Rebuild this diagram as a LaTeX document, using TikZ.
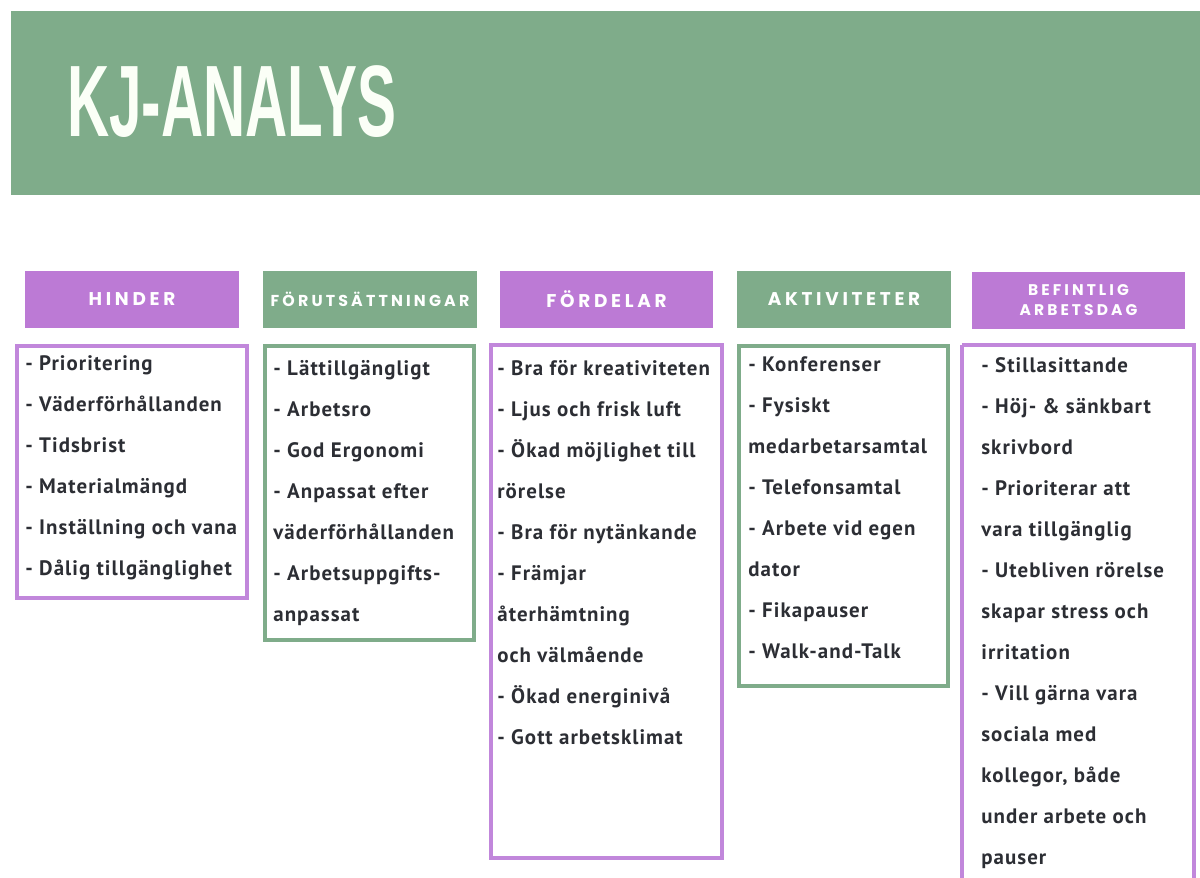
\documentclass[tikz,border=0pt]{standalone}
\usepackage{fontspec}
\setmainfont{PT Sans}
\newfontfamily\hdrfont[LetterSpace=20]{Poppins}
\newfontfamily\itemfont[LetterSpace=5]{PT Sans}
\newfontfamily\titlefont{Liberation Sans}
\usetikzlibrary{positioning}

\definecolor{kjgreen}{HTML}{7FAC8A}
\definecolor{kjpurple}{HTML}{BC7AD5}
\definecolor{kjline}{HTML}{C187DB}
\definecolor{kjtext}{HTML}{2C2E34}
\definecolor{kjtitle}{HTML}{FBFFF7}

\begin{document}
\begin{tikzpicture}[x=0.02cm, y=-0.02cm,
	header/.style={minimum width=4.28cm, minimum height=1.14cm, inner sep=0, text=white, align=center, font=\hdrfont\bfseries\fontsize{10.5}{11.3}\selectfont},
	item/.style={anchor=base west, inner sep=0, text=kjtext, font=\itemfont\bfseries\fontsize{11.9}{14}\selectfont},
	box/.style={line width=2pt}]
\def \step {41}
\def \hinx {25}
\def \forx {273}
\def \fordx {497}
\def \aktx {748}
\def \befx {981}

\useasboundingbox (0,0) rectangle (1200,877);

%Banner
\fill[kjgreen] (11,11) rectangle (1200,195);
\node[anchor=base west, inner sep=0, text=kjtitle, font=\titlefont\bfseries\fontsize{57.8}{58}\selectfont] (title) at (67,136) {\scalebox{0.575}[1]{KJ-ANALYS}};

%Headers
\node[header, fill=kjpurple] (hinder) at (132,299.5) {HINDER};
\node[header, fill=kjgreen, font=\hdrfont\bfseries\fontsize{9}{10}\selectfont] (forutsattningar) at (370,299.5) {FÖRUTSÄTTNINGAR};
\node[header, fill=kjpurple] (fordelar) at (606.5,299.5) {FÖRDELAR};
\node[header, fill=kjgreen] (aktiviteter) at (844,299.5) {AKTIVITETER};
\node[header, fill=kjpurple, font=\hdrfont\bfseries\fontsize{8.8}{11.3}\selectfont] (befintlig) at (1078.5,300) {BEFINTLIG\\ARBETSDAG};

%Hinder
\draw[box, kjline] (17,346) rectangle (247,598);
\foreach \t [count=\i from 0] in {- Prioritering, - Väderförhållanden, - Tidsbrist, - Materialmängd, - Inställning och vana, - Dålig tillgänglighet}
	\node[item] (hin\i) at (\hinx,{370+\step*\i}) {\t};

%Forutsattningar
\draw[box, kjgreen] (265,346) rectangle (474,640);
\foreach \t [count=\i from 0] in {- Lättillgängligt, - Arbetsro, - God Ergonomi, - Anpassat efter, väderförhållanden, - Arbetsuppgifts-, anpassat}
	\node[item] (for\i) at (\forx,{375+\step*\i}) {\t};

%Fordelar
\draw[box, kjline] (491,345) rectangle (722,858);
\foreach \t [count=\i from 0] in {- Bra för kreativiteten, - Ljus och frisk luft, - Ökad möjlighet till, rörelse, - Bra för nytänkande, - Främjar, återhämtning, och välmående, - Ökad energinivå, - Gott arbetsklimat}
	\node[item] (ford\i) at (\fordx,{375+\step*\i}) {\t};

%Aktiviteter
\draw[box, kjgreen] (739,346) rectangle (948,686);
\foreach \t [count=\i from 0] in {- Konferenser, - Fysiskt, medarbetarsamtal, - Telefonsamtal, - Arbete vid egen, dator, - Fikapauser, - Walk-and-Talk}
	\node[item] (akt\i) at (\aktx,{371+\step*\i}) {\t};

%Befintlig arbetsdag
\draw[box, kjline] (962,345) -- (962,890) (962,345) -- (1194,345) -- (1194,890);
\foreach \t [count=\i from 0] in { - Stillasittande, - Höj- \& sänkbart, skrivbord, - Prioriterar att, vara tillgänglig, - Utebliven rörelse, skapar stress och, irritation, - Vill gärna vara, sociala med, {kollegor, både}, under arbete och, pauser}
	\node[item] (bef\i) at (\befx,{372+\step*\i}) {\t};

\end{tikzpicture}
\end{document}
